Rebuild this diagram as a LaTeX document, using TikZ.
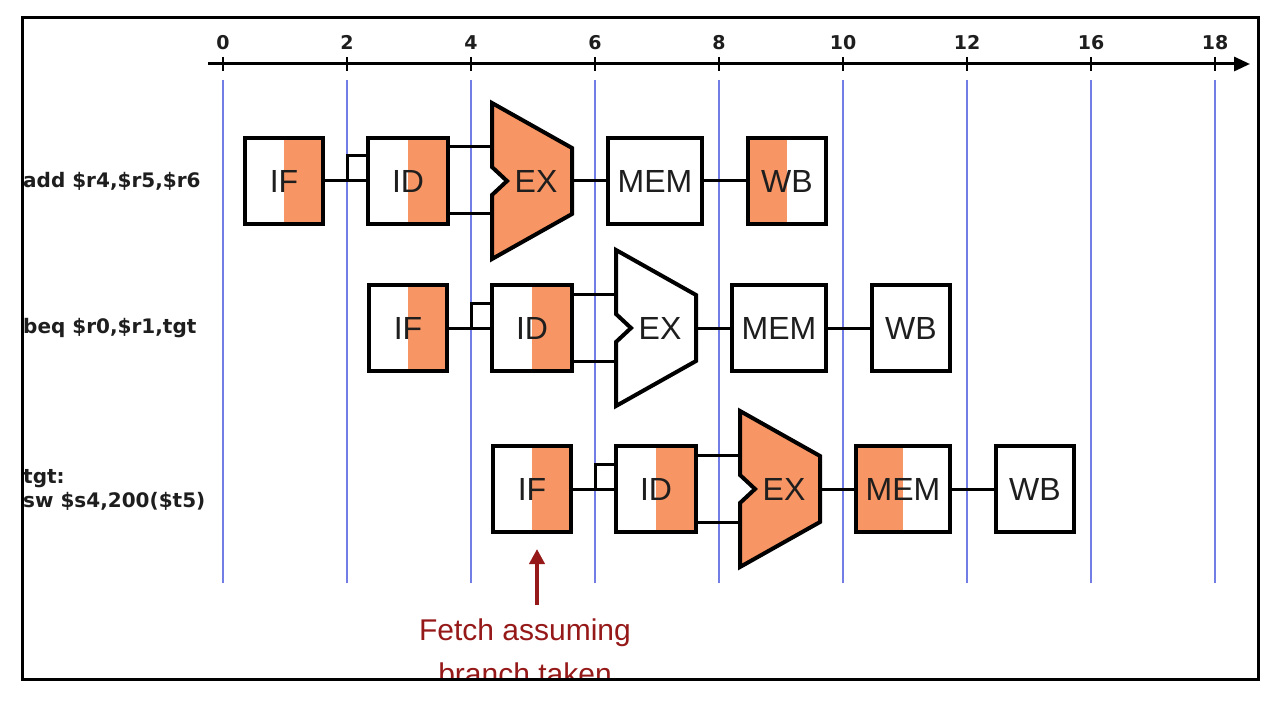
\documentclass[tikz,border=0pt]{standalone}
\usepackage{fontspec}
\usetikzlibrary{arrows.meta}
\newfontfamily\arialf{Liberation Sans}
\newfontfamily\verdf{DejaVu Sans}
\definecolor{peach}{RGB}{247,150,100}
\definecolor{gridblue}{RGB}{115,125,230}
\definecolor{darkred}{RGB}{150,25,25}
\definecolor{ink}{RGB}{30,30,30}
\tikzset{
 stage/.style={draw=black, fill=white, line width=4pt, minimum height=86pt, inner sep=0pt, text=ink, font=\arialf\fontsize{32}{38}\selectfont},
 stagetext/.style={inner sep=0pt, text=ink, font=\arialf\fontsize{32}{38}\selectfont},
 rh/.style={path picture={\fill[peach] (path picture bounding box.north) rectangle (path picture bounding box.south east);}},
 lh/.style={path picture={\fill[peach] (path picture bounding box.north west) rectangle (path picture bounding box.south);}},
 pl/.style={},
 exshape/.style={draw=black, line width=4pt, line join=miter},
 wire/.style={draw=black, line width=3pt},
 gridline/.style={draw=gridblue, line width=1.5pt},
 axisline/.style={draw=black, line width=3pt, -{Triangle[length=16pt,width=14pt]}},
 tickmark/.style={draw=black, line width=1.5pt},
 axlabel/.style={inner sep=0pt, anchor=base, text=ink, font=\verdf\bfseries\fontsize{19}{22}\selectfont},
 instr/.style={anchor=west, inner sep=0pt, text=ink, align=left, font=\verdf\bfseries\fontsize{20}{24}\selectfont},
 fetchtext/.style={inner sep=0pt, text=darkred, align=center, font=\arialf\fontsize{30}{44}\selectfont},
 fetcharrow/.style={draw=darkred, line width=4pt, -{Triangle[length=15pt,width=15pt]}},
}
\newcommand\pipeRow[8]{%
 \node[stage, minimum width=78pt, #4] (if#1) at (#2+39,#3) {IF};
 \node[stage, minimum width=80pt, #5] (id#1) at (#2+163,#3) {ID};
 \draw[exshape, fill=#6] (#2+247,#3-78) -- (#2+327,#3-33) -- (#2+327,#3+33) -- (#2+247,#3+78) -- (#2+247,#3+14) -- (#2+262,#3) -- (#2+247,#3-14) -- cycle;
 \node[stagetext] (ex#1) at (#2+291,#3) {EX};
 \node[stage, minimum width=94pt, #7] (mem#1) at (#2+410,#3) {MEM};
 \node[stage, minimum width=78pt, #8] (wb#1) at (#2+542,#3) {WB};
 \coordinate (j#1) at (#2+102,#3);
 \coordinate (exa#1) at (#2+247,#3-34);
 \coordinate (exb#1) at (#2+247,#3+33);
 \coordinate (exo#1) at (#2+327,#3);
 \draw[wire] (if#1.east) -- (id#1.west);
 \draw[wire] (j#1) |- ([yshift=25pt]id#1.west);
 \draw[wire] (id#1.east |- exa#1) -- (exa#1);
 \draw[wire] (id#1.east |- exb#1) -- (exb#1);
 \draw[wire] (exo#1) -- (mem#1.west);
 \draw[wire] (mem#1.east) -- (wb#1.west);
}
\begin{document}
\begin{tikzpicture}[x=1pt,y=-1pt]
\useasboundingbox (0,0) rectangle (1265,703);
\fill[white] (0,0) rectangle (1265,703);
% grid lines
\foreach \k in {0,...,8} \draw[gridline] (223+124*\k,80) -- (223+124*\k,583);
% time axis
\coordinate (axs) at (208,64);
\coordinate (axe) at (1250,64);
\draw[axisline] (axs) -- (axe);
\foreach \k/\l in {0/0,1/2,2/4,3/6,4/8,5/10,6/12,7/16,8/18} {
 \draw[tickmark] (223+124*\k,57) -- (223+124*\k,71);
 \node[axlabel] (t\k) at (223+124*\k,50) {\l};
}
% instructions
\node[instr] (i1) at (23,181) {add \$r4,\$r5,\$r6};
\node[instr] (i2) at (23,328) {beq \$r0,\$r1,tgt};
\node[instr] (i3) at (23,490) {tgt:\\sw \$s4,200(\$t5)};
% pipelines
\pipeRow{1}{245}{181}{rh}{rh}{peach}{pl}{lh}
\pipeRow{2}{369}{328}{rh}{rh}{white}{pl}{pl}
\pipeRow{3}{493}{489}{rh}{rh}{peach}{lh}{pl}
% fetch note
\begin{scope}
\clip (22,18) rectangle (1258,678);
\node[fetchtext, anchor=north] (fetch) at (525,619) {Fetch assuming\\branch taken};
\end{scope}
\coordinate (tip) at (537,549);
\draw[fetcharrow] (tip |- fetch.north) ++(0,-14) -- (tip);
% frame
\draw[line width=3pt] (22,18) rectangle (1258,679);
\end{tikzpicture}
\end{document}
